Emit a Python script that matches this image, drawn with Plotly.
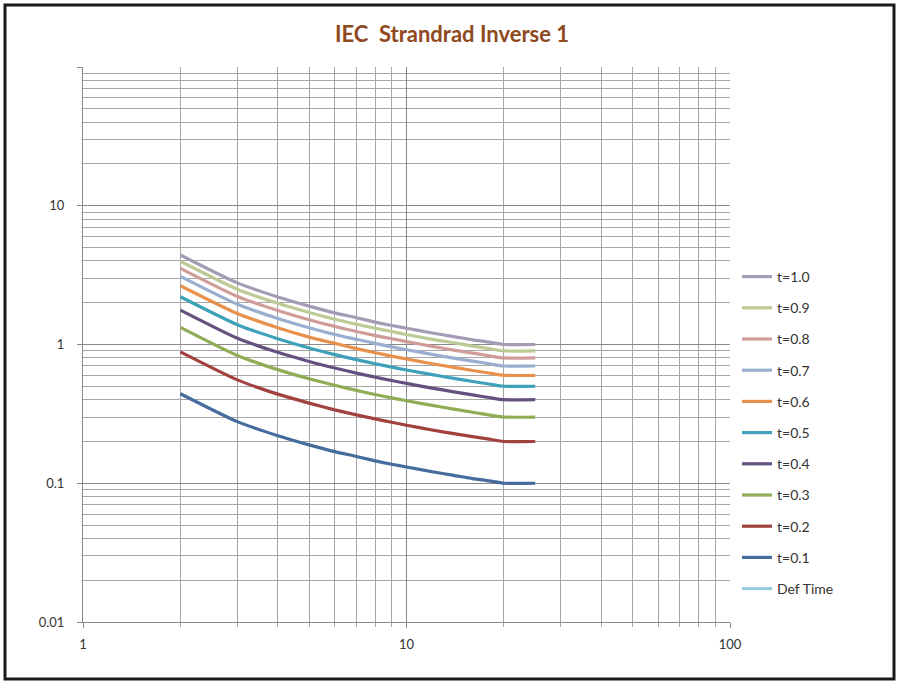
import plotly.graph_objects as go

# Current multiple (x) and operating time (y)
x_vals = [2, 3, 4, 5, 6, 7, 8, 9, 10, 12, 14, 16, 18, 20, 25]

t_1_0 = [4.42, 2.78, 2.20, 1.89, 1.69, 1.56, 1.45, 1.37, 1.31, 1.21, 1.14, 1.08, 1.04, 1.00, 1.00]
t_0_9 = [3.98, 2.50, 1.98, 1.70, 1.52, 1.40, 1.31, 1.24, 1.18, 1.09, 1.03, 0.974, 0.934, 0.900, 0.900]
t_0_8 = [3.54, 2.22, 1.76, 1.51, 1.35, 1.24, 1.16, 1.10, 1.05, 0.970, 0.911, 0.866, 0.830, 0.800, 0.800]
t_0_7 = [3.10, 1.95, 1.54, 1.32, 1.18, 1.09, 1.02, 0.962, 0.917, 0.848, 0.797, 0.758, 0.727, 0.700, 0.700]
t_0_6 = [2.65, 1.67, 1.32, 1.13, 1.02, 0.934, 0.872, 0.825, 0.786, 0.727, 0.684, 0.650, 0.623, 0.600, 0.600]
t_0_5 = [2.21, 1.39, 1.10, 0.944, 0.846, 0.778, 0.727, 0.687, 0.655, 0.606, 0.570, 0.541, 0.519, 0.500, 0.500]
t_0_4 = [1.77, 1.11, 0.878, 0.755, 0.677, 0.622, 0.582, 0.550, 0.524, 0.485, 0.456, 0.433, 0.415, 0.400, 0.400]
t_0_3 = [1.33, 0.834, 0.659, 0.566, 0.508, 0.467, 0.436, 0.412, 0.393, 0.364, 0.342, 0.325, 0.311, 0.300, 0.300]
t_0_2 = [0.885, 0.556, 0.439, 0.378, 0.338, 0.311, 0.291, 0.275, 0.262, 0.242, 0.228, 0.217, 0.208, 0.200, 0.200]
t_0_1 = [0.442, 0.278, 0.220, 0.189, 0.169, 0.156, 0.145, 0.137, 0.131, 0.121, 0.114, 0.108, 0.104, 0.100, 0.100]
def_time_x = [None]
def_time_y = [None]

series_names = ["t=1.0", "t=0.9", "t=0.8", "t=0.7", "t=0.6", "t=0.5",
                "t=0.4", "t=0.3", "t=0.2", "t=0.1"]
series_values = [t_1_0, t_0_9, t_0_8, t_0_7, t_0_6, t_0_5, t_0_4, t_0_3, t_0_2, t_0_1]
series_colors = ["#A49BB5", "#BCCB96", "#CF9C9A", "#9AAED0", "#E8914C",
                 "#3FA0BA", "#64517F", "#8FAD55", "#A2423F", "#466C9E"]

x_tickvals = [1, 10, 100]
x_ticktext = ["1", "10", "100"]
y_tickvals = [0.01, 0.1, 1, 10, 100]
y_ticktext = ["0.01", "0.1", "1", "10", ""]

x_minor = [2, 3, 4, 5, 6, 7, 8, 9, 20, 30, 40, 50, 60, 70, 80, 90]
y_minor = [0.02, 0.03, 0.04, 0.05, 0.06, 0.07, 0.08, 0.09,
           0.2, 0.3, 0.4, 0.5, 0.6, 0.7, 0.8, 0.9,
           2, 3, 4, 5, 6, 7, 8, 9,
           20, 30, 40, 50, 60, 70, 80, 90]

FONT = "Lato, 'Open Sans', sans-serif"

fig = go.Figure()
for i, (name, vals, col) in enumerate(zip(series_names, series_values, series_colors)):
    fig.add_trace(go.Scatter(x=x_vals, y=vals, mode="lines", name=name,
                             line=dict(color=col, width=3.2, shape="spline", smoothing=0.6),
                             legendgroup=f"g{i}"))
fig.add_trace(go.Scatter(x=def_time_x, y=def_time_y, mode="lines", name="Def Time",
                         line=dict(color="#93CDDD", width=3), legendgroup="gdef"))

W, H = 897, 684
L, R, T, B = 83, 167, 67, 62
pw, ph = W - L - R, H - T - B

fig.update_layout(
    width=W, height=H,
    margin=dict(l=L, r=R, t=T, b=B, pad=0),
    paper_bgcolor="white", plot_bgcolor="white",
    font=dict(family=FONT, size=13, color="#333333"),
    title=dict(text="<b>IEC  Strandrad Inverse 1</b>",
               x=(452 - L) / pw, xref="paper", xanchor="center",
               y=1 - 34 / H, yref="container", yanchor="middle",
               font=dict(family=FONT, size=22, color="#8E4A1E")),
    showlegend=True,
    legend=dict(x=(737 - L) / pw, xanchor="left", y=1 - (261 - T) / ph, yanchor="top",
                traceorder="grouped", tracegroupgap=10,
                font=dict(family=FONT, size=14, color="#333333"),
                bgcolor="rgba(0,0,0,0)", itemwidth=30),
    xaxis=dict(type="log", range=[0, 2],
               tickmode="array", tickvals=x_tickvals, ticktext=x_ticktext,
               showgrid=True, gridcolor="#8a8a8a", gridwidth=1,
               showline=True, linecolor="#8a8a8a", linewidth=1,
               ticks="outside", ticklen=5, tickcolor="#8a8a8a",
               ticklabelstandoff=5, zeroline=False,
               minor=dict(tickmode="array", tickvals=x_minor, showgrid=True,
                          gridcolor="#a6a6a6", gridwidth=1,
                          ticks="outside", ticklen=4, tickcolor="#a6a6a6")),
    yaxis=dict(type="log", range=[-2, 2],
               tickmode="array", tickvals=y_tickvals, ticktext=y_ticktext,
               showgrid=True, gridcolor="#8a8a8a", gridwidth=1,
               showline=True, linecolor="#8a8a8a", linewidth=1,
               ticks="outside", ticklen=5, tickcolor="#8a8a8a",
               ticklabelstandoff=10, zeroline=False,
               minor=dict(tickmode="array", tickvals=y_minor, showgrid=True,
                          gridcolor="#a6a6a6", gridwidth=1)),
    shapes=[
        dict(type="rect", xref="paper", yref="paper",
             x0=(5 - L) / pw, x1=(894 - L) / pw,
             y0=1 - (679 - T) / ph, y1=1 - (5 - T) / ph,
             line=dict(color="#1a1a1a", width=3), fillcolor="rgba(0,0,0,0)", layer="above"),
    ],
)

fig.write_html("out.html", config={"displayModeBar": False},
               post_script="document.body.style.margin='0';document.body.style.overflow='hidden';")
